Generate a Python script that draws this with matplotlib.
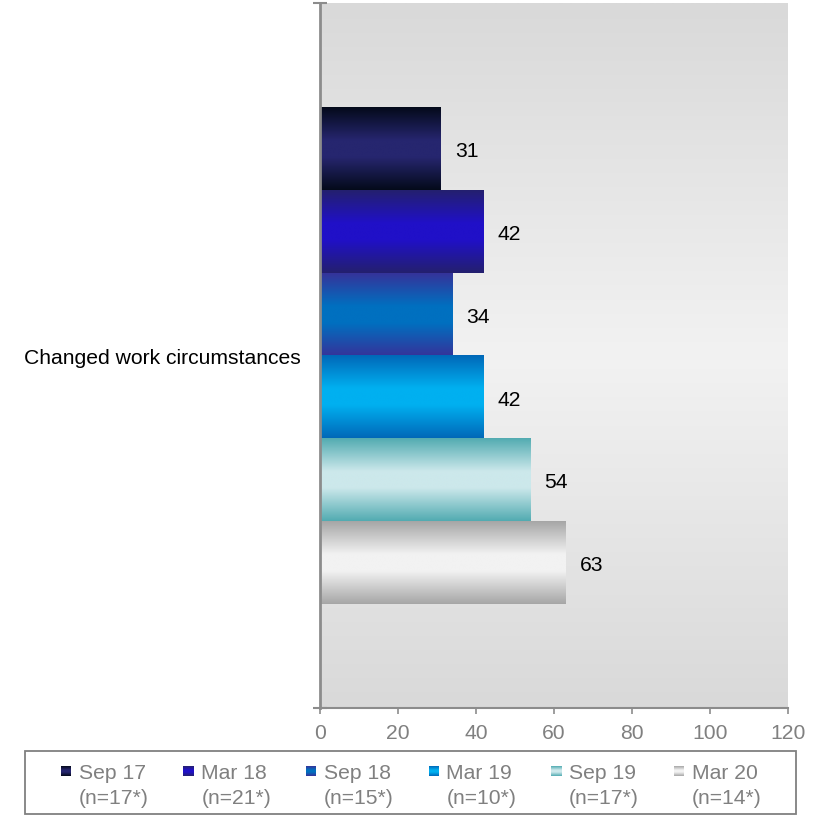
import numpy as np
import matplotlib.pyplot as plt
from matplotlib.colors import LinearSegmentedColormap
from matplotlib.legend_handler import HandlerBase
from matplotlib.patches import Rectangle

plt.rcParams["font.family"] = ["Liberation Sans", "DejaVu Sans"]

# ============================================================
# Data
# ============================================================

CATEGORY = "Changed work circumstances"
WAVES = ["Sep 17", "Mar 18", "Sep 18", "Mar 19", "Sep 19", "Mar 20"]
SAMPLE_SIZES = ["n=17*", "n=21*", "n=15*", "n=10*", "n=17*", "n=14*"]
VALUES = [31, 42, 34, 42, 54, 63]

# edge / centre colours of the shaded bars
EDGE_COLORS = ["#040a1a", "#24206e", "#35339a", "#0068b8", "#52abb1", "#a6a6a6"]
MID_COLORS = ["#26266f", "#2010c8", "#0070c0", "#00b0f0", "#cce8eb", "#f2f2f2"]

GRAY = "#808080"
FONT_SIZE = 15.2


def shade_cmap(edge, mid):
    return LinearSegmentedColormap.from_list(
        "shade", [(0.0, edge), (0.4, mid), (0.6, mid), (1.0, edge)]
    )


class ShadedSquare(HandlerBase):
    """Small legend square with the same vertical shading as the bars."""

    def __init__(self, cmap, size=7.5, lift=0.0):
        super().__init__()
        self.cmap = cmap
        self.size = size
        self.lift = lift

    def create_artists(self, legend, orig_handle, xdescent, ydescent,
                       width, height, fontsize, trans):
        n = 10
        x0 = -xdescent + width - self.size
        y0 = -ydescent + (height - self.size) / 2 + self.lift
        step = self.size / n
        artists = []
        for i in range(n):
            r = Rectangle((x0, y0 + i * step), self.size, step * 1.05,
                          facecolor=self.cmap((i + 0.5) / n), edgecolor="none",
                          transform=trans)
            artists.append(r)
        return artists


# ============================================================
# Figure
# ============================================================

fig = plt.figure(figsize=(8.19, 8.20), dpi=100)
ax = fig.add_axes([320 / 819, 1 - 709 / 820, 468 / 819, 705 / 820])

# background gradient
bg_cmap = LinearSegmentedColormap.from_list(
    "bg", [(0.0, "#d9d9d9"), (0.5, "#f2f2f2"), (1.0, "#d9d9d9")]
)
bg = np.linspace(0, 1, 256).reshape(-1, 1)
ax.imshow(bg, extent=(0, 1, 0, 1), transform=ax.transAxes, aspect="auto",
          cmap=bg_cmap, zorder=0)
ax.patch.set_visible(False)

group_width = 0.705
bar_h = group_width / len(VALUES)
grad = np.linspace(0, 1, 256).reshape(-1, 1)
cmaps = [shade_cmap(e, m) for e, m in zip(EDGE_COLORS, MID_COLORS)]

for i, (value, cmap) in enumerate(zip(VALUES, cmaps)):
    top = -group_width / 2 + i * bar_h
    ax.imshow(grad, extent=(0, value, top + bar_h, top), aspect="auto",
              cmap=cmap, zorder=2, interpolation="bilinear")
    ax.annotate(f"{value}", xy=(value, top + bar_h / 2), xytext=(10, -1.5),
                textcoords="offset points", ha="left", va="center",
                fontsize=FONT_SIZE, color="black", zorder=3)

ax.set_xlim(0, 120)
ax.set_ylim(0.5, -0.5)

# axes styling
for side in ["top", "right"]:
    ax.spines[side].set_visible(False)
ax.spines["left"].set_color("#8c8c8c")
ax.spines["left"].set_linewidth(2)
ax.spines["bottom"].set_color("#8c8c8c")
ax.spines["bottom"].set_linewidth(1.5)

ax.set_xticks(np.arange(0, 121, 20))
ax.tick_params(axis="x", colors="#8c8c8c", labelcolor=GRAY,
               labelsize=FONT_SIZE, length=4.5, width=1.2, pad=6)

ax.set_yticks([0])
ax.set_yticklabels([CATEGORY])
ax.tick_params(axis="y", which="major", length=0, pad=14,
               labelsize=FONT_SIZE, labelcolor="black")
ax.set_yticks([-0.5, 0.5], minor=True)
ax.tick_params(axis="y", which="minor", direction="inout", length=9.5,
               width=1.5, colors="#8c8c8c")

# legend box drawn separately so its size matches the reference
fig.patches.append(Rectangle(
    (25 / 819, 1 - 815 / 820), 771 / 819, 63 / 820,
    transform=fig.transFigure, facecolor="none", edgecolor=GRAY,
    linewidth=1.3, zorder=-1,
))

handles = [Rectangle((0, 0), 1, 1) for _ in WAVES]
labels = [f"{w}\n({n})" for w, n in zip(WAVES, SAMPLE_SIZES)]
handler_map = {h: ShadedSquare(c, lift=1.35 * FONT_SIZE / 2)
               for h, c in zip(handles, cmaps)}
leg = fig.legend(
    handles, labels,
    handler_map=handler_map,
    loc="center",
    bbox_to_anchor=(410 / 819, 1 - 786 / 820),
    bbox_transform=fig.transFigure,
    ncol=6,
    fontsize=FONT_SIZE,
    frameon=False,
    borderaxespad=0,
    borderpad=0,
    handlelength=0.6,
    handletextpad=0.35,
    columnspacing=1.55,
)
for text in leg.get_texts():
    text.set_color(GRAY)
    text.set_linespacing(1.35)

fig.savefig("out.png", dpi=100)
